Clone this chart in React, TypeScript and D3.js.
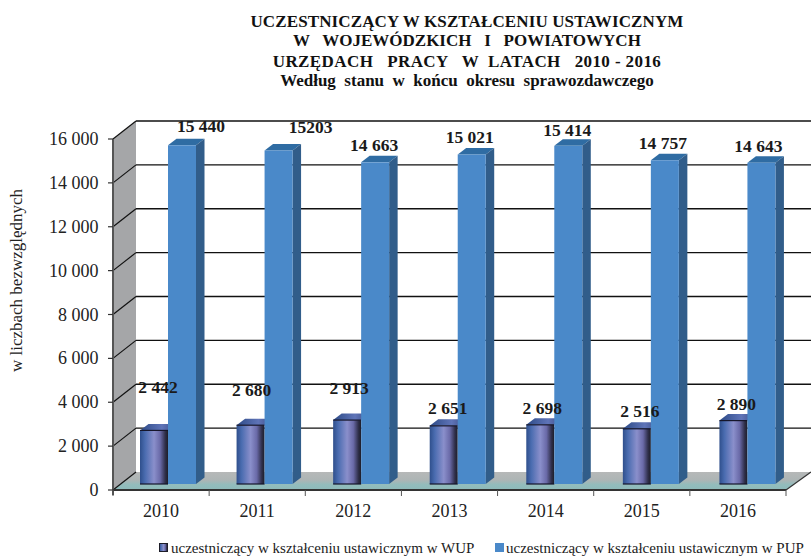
import { scaleBand, scaleLinear, range } from "d3"

const years = ["2010", "2011", "2012", "2013", "2014", "2015", "2016"]
const wupValues = [2442, 2680, 2913, 2651, 2698, 2516, 2890]
const pupValues = [15440, 15203, 14663, 15021, 15414, 14757, 14643]
const wupLabels = ["2 442", "2 680", "2 913", "2 651", "2 698", "2 516", "2 890"]
const pupLabels = ["15 440", "15203", "14 663", "15 021", "15 414", "14 757", "14 643"]
const yTicks = [0, 2000, 4000, 6000, 8000, 10000, 12000, 14000, 16000]
const titleLines = [
  "UCZESTNICZĄCY W KSZTAŁCENIU USTAWICZNYM",
  "W   WOJEWÓDZKICH   I   POWIATOWYCH",
  "URZĘDACH   PRACY   W  LATACH   2010 - 2016",
  "Według  stanu  w  końcu  okresu  sprawozdawczego",
]
const legendNames = [
  "uczestniczący w kształceniu ustawicznym w WUP",
  "uczestniczący w kształceniu ustawicznym w PUP",
]
// hand placed label nudges, the source chart has them dragged around
const wupLabelShift = [[-1, -37], [-4, -29], [-3, -26], [-1, -12], [-3, -11], [-2, -12], [-2, -11]]
const pupLabelShift = [[14, -13], [27, -17], [-6, -11], [-7, -11], [-6, -10], [-7, -11], [-8, -11]]
const titleBaselines = [27, 46, 67, 86]
const titleSpacing = [0.12, 0, 0.4, 0]

const width = 811
const height = 556
const depth = { x: 23, y: -18 }
const barDepth = { x: 8.5, y: -6.5 }
const font = "'Liberation Serif', serif"

const yFront = scaleLinear().domain([0, 16000]).range([490, 139])
const yBar = (v: number) => yFront(v) - 6
const xAxis = scaleBand().domain(years).range([113, 786])
const xBars = scaleBand().domain(years).range([116, 792])
const barW = 28
const barStart = 24

const fmt = (v: number) => {
  const s = String(v)
  return s.length > 3 ? s.slice(0, -3) + " " + s.slice(-3) : s
}

export default function App() {
  const x0 = xAxis.range()[0]
  const x1 = xAxis.range()[1]
  const base = yFront(0)
  const top = yFront(16000)
  const step = xAxis.step()

  return (
    <svg
      width={width}
      height={height}
      viewBox={`0 0 ${width} ${height}`}
      style={{ position: "absolute", left: 0, top: 0, background: "#fff" }}
      fontFamily={font}
    >
      <defs>
        <linearGradient id="cyl" x1="0" x2="1" y1="0" y2="0">
          <stop offset="0" stopColor="#2f4f8c" />
          <stop offset="0.18" stopColor="#4a6cb0" />
          <stop offset="0.5" stopColor="#8a8fcb" />
          <stop offset="0.72" stopColor="#6a6aa8" />
          <stop offset="0.9" stopColor="#2f2f4a" />
          <stop offset="1" stopColor="#1d1d28" />
        </linearGradient>
        <linearGradient id="cylTop" x1="0" x2="1" y1="0" y2="0">
          <stop offset="0" stopColor="#2c4a86" />
          <stop offset="0.6" stopColor="#5f74b8" />
          <stop offset="1" stopColor="#3a4a80" />
        </linearGradient>
        <linearGradient id="floor" x1="0" x2="0" y1="0" y2="1">
          <stop offset="0" stopColor="#b6b8b8" />
          <stop offset="0.45" stopColor="#adb5b5" />
          <stop offset="0.7" stopColor="#93bcbc" />
          <stop offset="1" stopColor="#8dbaba" />
        </linearGradient>
      </defs>

      {/* title */}
      <g fontWeight="bold" fontSize={17} textAnchor="middle" fill="#111">
        {titleLines.map((t, i) => (
          <text key={i} x={467} y={titleBaselines[i]} xmlSpace="preserve" letterSpacing={titleSpacing[i]}>
            {t}
          </text>
        ))}
      </g>

      {/* side wall and floor */}
      <polygon
        points={`${x0},${top} ${x0 + depth.x},${top + depth.y} ${x0 + depth.x},${base + depth.y} ${x0},${base}`}
        fill="#a5a6a8"
      />
      <polygon
        points={`${x0},${base} ${x0 + depth.x},${base + depth.y} ${x1 + depth.x + 2},${base + depth.y} ${x1},${base}`}
        fill="url(#floor)"
      />

      {/* gridlines */}
      {yTicks.map((t) => (
        <g key={t} stroke="#111" fill="none">
          <line x1={x0} y1={yFront(t)} x2={x0 + depth.x} y2={yFront(t) + depth.y} strokeWidth={1.2} />
          {t > 0 && (
            <line x1={x0 + depth.x} y1={yFront(t) + depth.y} x2={width} y2={yFront(t) + depth.y} strokeWidth={1.4} />
          )}
        </g>
      ))}

      {/* axes */}
      <line x1={x0} y1={top} x2={x0} y2={base + 5} stroke="#555" strokeWidth={2} />
      <line x1={x0} y1={base} x2={x1} y2={base} stroke="#333" strokeWidth={2} />
      <line x1={x1} y1={base} x2={x1 + depth.x + 2} y2={base + depth.y} stroke="#333" strokeWidth={1.2} />
      {yTicks.map((t) => (
        <g key={t}>
          <line x1={x0 - 5} x2={x0} y1={yFront(t)} y2={yFront(t)} stroke="#333" strokeWidth={1.2} />
          <text x={98.5} y={yFront(t) + 6} textAnchor="end" fontSize={18} fill="#222">
            {fmt(t)}
          </text>
        </g>
      ))}
      {range(years.length + 1).map((i) => (
        <line key={i} x1={x0 + i * step} x2={x0 + i * step} y1={base} y2={base + 6} stroke="#555" strokeWidth={1} />
      ))}
      {years.map((y) => (
        <text key={y} x={(xAxis(y) as number) + xAxis.bandwidth() / 2} y={517} textAnchor="middle" fontSize={18} fill="#222">
          {y}
        </text>
      ))}

      {/* bars */}
      {years.map((y, i) => {
        const l = (xBars(y) as number) + barStart
        const m = l + barW
        const r = m + barW
        const tw = yBar(wupValues[i])
        const tp = yBar(pupValues[i])
        const b = yBar(0)
        return (
          <g key={y}>
            {/* WUP cylinder */}
            <polygon
              points={`${l},${tw} ${l + barDepth.x},${tw + barDepth.y} ${m + barDepth.x},${tw + barDepth.y} ${m},${tw}`}
              fill="url(#cylTop)"
            />
            <rect x={l} y={tw} width={barW} height={b - tw} fill="url(#cyl)" />
            <line x1={l} x2={m} y1={tw} y2={tw} stroke="#15152a" strokeWidth={1.2} />
            <line x1={l} x2={m} y1={b} y2={b} stroke="#15152a" strokeWidth={1.2} />
            {/* PUP box */}
            <polygon
              points={`${m},${tp} ${m + barDepth.x},${tp + barDepth.y} ${r + barDepth.x},${tp + barDepth.y} ${r},${tp}`}
              fill="#2f6ca3"
            />
            <polygon
              points={`${r},${tp} ${r + barDepth.x},${tp + barDepth.y} ${r + barDepth.x},${b + barDepth.y} ${r},${b}`}
              fill="#315d8a"
            />
            <rect x={m} y={tp} width={barW} height={b - tp} fill="#4a89c9" />
          </g>
        )
      })}

      {/* value labels */}
      <g fontWeight="bold" fontSize={17.5} textAnchor="middle" fill="#1a1a1a">
        {years.map((y, i) => {
          const l = (xBars(y) as number) + barStart
          return (
            <g key={y}>
              <text x={l + barW / 2 + wupLabelShift[i][0] + 5} y={yBar(wupValues[i]) + wupLabelShift[i][1]}>
                {wupLabels[i]}
              </text>
              <text x={l + barW * 1.5 + pupLabelShift[i][0] + 5} y={yBar(pupValues[i]) + pupLabelShift[i][1]}>
                {pupLabels[i]}
              </text>
            </g>
          )
        })}
      </g>

      {/* y title */}
      <text transform="translate(22,280.5) rotate(-90)" textAnchor="middle" fontSize={17} fill="#222">
        w liczbach bezwzględnych
      </text>

      {/* legend */}
      <rect x={159.5} y={543.5} width={8} height={8} fill="url(#cyl)" stroke="#1d1d28" />
      <text x={171} y={553} fontSize={15} fill="#222">{legendNames[0]}</text>
      <rect x={495} y={543} width={9} height={9} fill="#4a89c9" />
      <text x={506} y={553} fontSize={15} fill="#222">{legendNames[1]}</text>
    </svg>
  )
}
